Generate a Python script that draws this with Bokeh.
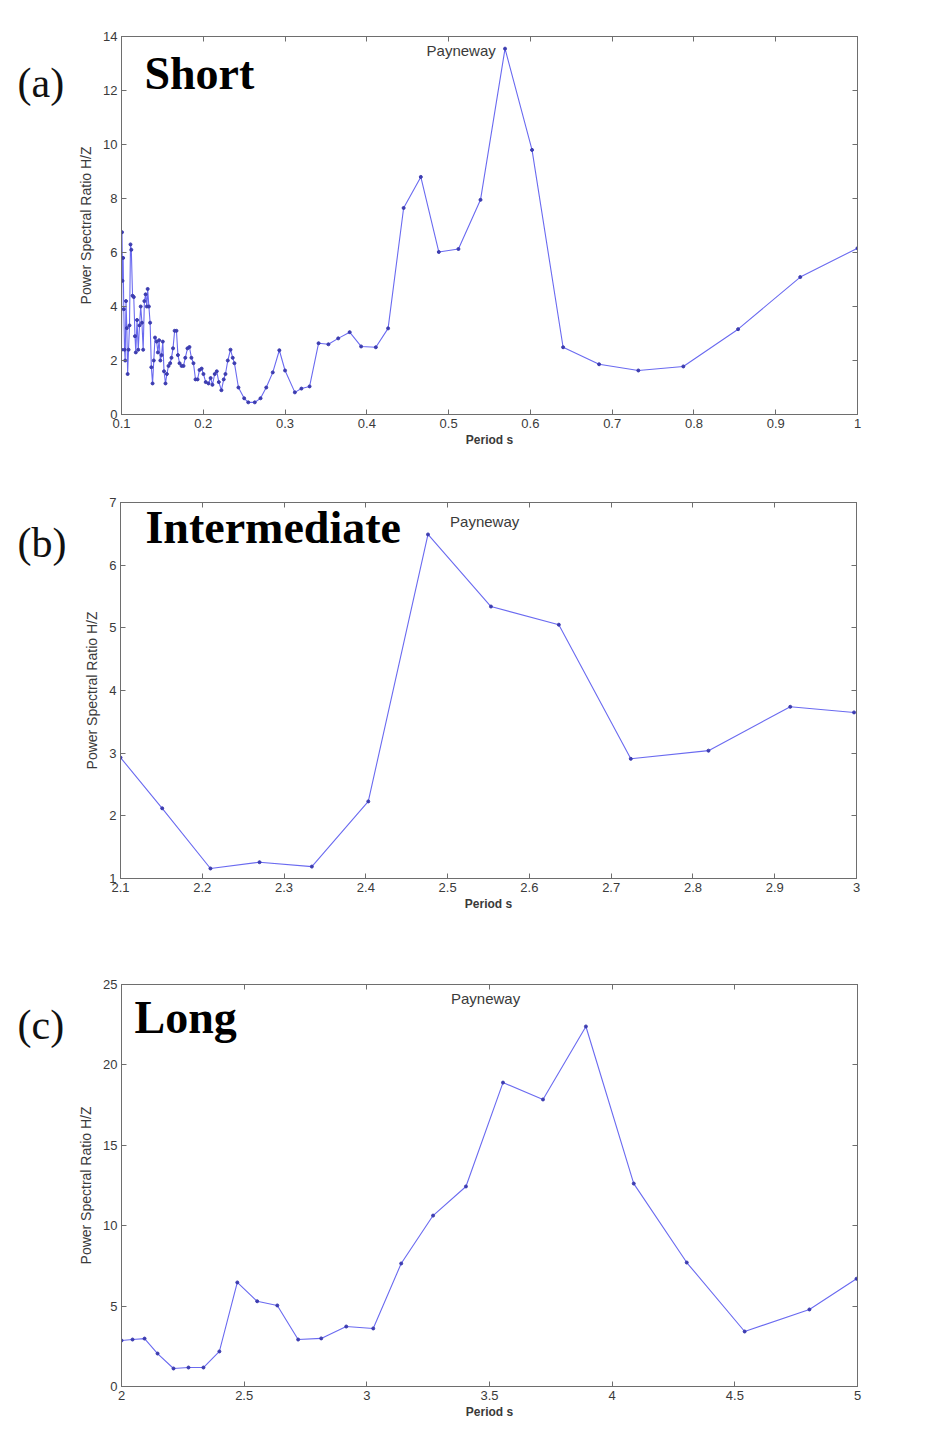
from bokeh.plotting import figure
from bokeh.models import FixedTicker, LinearAxis, Label, CustomJSTickFormatter, Range1d, ColumnDataSource
from bokeh.layouts import column, row
from bokeh.embed import file_html
from bokeh.resources import INLINE

# ---------------- data ----------------
short_period = [0.1000, 0.1006, 0.1012, 0.1020, 0.1028, 0.1037, 0.1045, 0.1055, 0.1065, 0.1075,
                0.1086, 0.1098, 0.1110, 0.1120, 0.1135, 0.1150, 0.1165, 0.1175, 0.1190, 0.1205,
                0.1220, 0.1235, 0.1250, 0.1265, 0.1280, 0.1295, 0.1310, 0.1320, 0.1335, 0.1350,
                0.1365, 0.1380, 0.1395, 0.1410, 0.1430, 0.1445, 0.1460, 0.1475, 0.1490, 0.1505,
                0.1520, 0.1538, 0.1555, 0.1575, 0.1595, 0.1611, 0.1630, 0.1650, 0.1672, 0.1690,
                0.1710, 0.1735, 0.1758, 0.1780, 0.1807, 0.1831, 0.1855, 0.1880, 0.1905, 0.1930,
                0.1954, 0.1980, 0.2002, 0.2030, 0.2064, 0.2090, 0.2112, 0.2140, 0.2165, 0.2190,
                0.2222, 0.2250, 0.2271, 0.2300, 0.2333, 0.2360, 0.2381, 0.2430, 0.2500, 0.2550,
                0.2630, 0.2700, 0.2770, 0.2850, 0.2930, 0.3000, 0.3120, 0.3200, 0.3300, 0.3410,
                0.3530, 0.3650, 0.3790, 0.3930, 0.4110, 0.4260, 0.4450, 0.4660, 0.4880, 0.5120,
                0.5390, 0.5690, 0.6020, 0.6400, 0.6840, 0.7320, 0.7870, 0.8540, 0.9300, 1.0000]
short_ratio = [2.40, 6.75, 4.95, 5.80, 3.90, 2.40, 2.00, 4.20, 3.20, 1.50,
               2.40, 3.30, 6.30, 6.10, 4.40, 4.35, 2.90, 2.30, 3.50, 2.40,
               3.30, 4.00, 3.40, 2.40, 4.20, 4.45, 4.00, 4.65, 4.00, 3.40,
               1.75, 1.15, 2.00, 2.85, 2.70, 2.30, 2.75, 2.00, 2.20, 2.70,
               1.60, 1.15, 1.50, 1.80, 1.90, 2.10, 2.45, 3.10, 3.10, 2.20,
               1.90, 1.80, 1.80, 2.10, 2.45, 2.50, 2.10, 1.90, 1.30, 1.30,
               1.65, 1.70, 1.50, 1.20, 1.15, 1.35, 1.10, 1.50, 1.60, 1.20,
               0.90, 1.30, 1.50, 2.00, 2.40, 2.10, 1.90, 1.00, 0.60, 0.45,
               0.45, 0.60, 1.00, 1.56, 2.38, 1.63, 0.82, 0.96, 1.04, 2.64,
               2.60, 2.82, 3.05, 2.52, 2.49, 3.19, 7.65, 8.80, 6.02, 6.13,
               7.95, 13.55, 9.80, 2.49, 1.86, 1.63, 1.78, 3.16, 5.09, 6.16]

inter_period = [2.100, 2.151, 2.210, 2.270, 2.334, 2.403, 2.476, 2.553, 2.636, 2.724, 2.819, 2.919, 2.997]
inter_ratio = [2.93, 2.12, 1.16, 1.26, 1.19, 2.23, 6.49, 5.34, 5.05, 2.91, 3.04, 3.74, 3.65]

long_period = [2.000, 2.045, 2.094, 2.147, 2.212, 2.273, 2.334, 2.399, 2.472, 2.553, 2.635, 2.720,
               2.814, 2.916, 3.026, 3.140, 3.270, 3.404, 3.555, 3.718, 3.893, 4.088, 4.304, 4.540,
               4.804, 4.996]
long_ratio = [2.86, 2.92, 2.98, 2.05, 1.12, 1.18, 1.18, 2.18, 6.47, 5.30, 5.04, 2.92,
              2.99, 3.73, 3.61, 7.65, 10.63, 12.44, 18.90, 17.85, 22.39, 12.62, 7.71, 3.42,
              4.79, 6.70]

short_xticks = [0.1, 0.2, 0.3, 0.4, 0.5, 0.6, 0.7, 0.8, 0.9, 1.0]
short_xlabels = ["0.1", "0.2", "0.3", "0.4", "0.5", "0.6", "0.7", "0.8", "0.9", "1"]
short_yticks = [0, 2, 4, 6, 8, 10, 12, 14]
short_ylabels = ["0", "2", "4", "6", "8", "10", "12", "14"]

inter_xticks = [2.1, 2.2, 2.3, 2.4, 2.5, 2.6, 2.7, 2.8, 2.9, 3.0]
inter_xlabels = ["2.1", "2.2", "2.3", "2.4", "2.5", "2.6", "2.7", "2.8", "2.9", "3"]
inter_yticks = [1, 2, 3, 4, 5, 6, 7]
inter_ylabels = ["1", "2", "3", "4", "5", "6", "7"]

long_xticks = [2.0, 2.5, 3.0, 3.5, 4.0, 4.5, 5.0]
long_xlabels = ["2", "2.5", "3", "3.5", "4", "4.5", "5"]
long_yticks = [0, 5, 10, 15, 20, 25]
long_ylabels = ["0", "5", "10", "15", "20", "25"]

panel_tags = ["(a)", "(b)", "(c)"]
panel_titles = ["Short", "Intermediate", "Long"]
station = "Payneway"
x_title = "Period s"
y_title = "Power Spectral Ratio H/Z"

AX = "#6e6e6e"
TXT = "#3a3a3a"
LINE = "#6a6af0"
MARK = "#3c3cb0"
TAG_W = 75


def tag_fig(height, tag, tag_xy):
    t = figure(width=TAG_W, height=height, min_border=0, title=None,
               x_axis_type=None, y_axis_type=None,
               x_range=Range1d(0, TAG_W), y_range=Range1d(0, height),
               output_backend="svg", toolbar_location=None)
    t.grid.visible = False
    t.outline_line_color = None
    t.add_layout(Label(x=tag_xy[0], y=tag_xy[1], text=tag,
                       text_font="Liberation Serif", text_font_size="42px",
                       text_color="#111111", text_baseline="middle",
                       text_align="left"))
    return t


def panel(xs, ys, xr, yr, xt, xl, yt, yl, fh, top, bottom,
          title, title_xy, st_xy):
    p = figure(frame_width=736, frame_height=fh,
               min_border_left=120 - TAG_W, min_border_right=79,
               min_border_top=top, min_border_bottom=bottom,
               x_range=Range1d(*xr), y_range=Range1d(*yr),
               output_backend="svg", toolbar_location=None)
    p.grid.visible = False
    p.outline_line_color = AX
    p.background_fill_color = "white"
    p.border_fill_color = "white"

    bottom_ax = p.below[0]
    left_ax = p.left[0]
    bottom_ax.ticker = FixedTicker(ticks=xt)
    bottom_ax.major_label_overrides = {t: l for t, l in zip(xt, xl)}
    left_ax.ticker = FixedTicker(ticks=yt)
    left_ax.major_label_overrides = {t: l for t, l in zip(yt, yl)}
    bottom_ax.axis_label = x_title
    left_ax.axis_label = y_title

    blank = CustomJSTickFormatter(code="return ''")
    right = LinearAxis(ticker=FixedTicker(ticks=yt), formatter=blank)
    above = LinearAxis(ticker=FixedTicker(ticks=xt), formatter=blank)
    p.add_layout(right, "right")
    p.add_layout(above, "above")

    for ax in (bottom_ax, left_ax, right, above):
        ax.major_tick_in = 5
        ax.major_tick_out = 0
        ax.minor_tick_in = 0
        ax.minor_tick_out = 0
        ax.axis_line_color = AX
        ax.major_tick_line_color = AX
        ax.major_label_text_font = "Liberation Sans"
        ax.major_label_text_font_size = "13px"
        ax.major_label_text_color = TXT
        ax.major_label_standoff = 4
    right.major_label_standoff = 0
    above.major_label_standoff = 0

    bottom_ax.axis_label_text_font = "Liberation Sans"
    bottom_ax.axis_label_text_font_size = "12px"
    bottom_ax.axis_label_text_font_style = "bold"
    bottom_ax.axis_label_text_color = TXT
    bottom_ax.axis_label_standoff = 2
    left_ax.axis_label_text_font = "Liberation Sans"
    left_ax.axis_label_text_font_size = "14px"
    left_ax.axis_label_text_font_style = "normal"
    left_ax.axis_label_text_color = TXT
    left_ax.axis_label_standoff = 6

    src = ColumnDataSource(dict(x=xs, y=ys))
    p.line("x", "y", source=src, line_color=LINE, line_width=1.1)
    p.scatter("x", "y", source=src, size=3, marker="circle",
              fill_color=MARK, line_color=MARK)

    p.add_layout(Label(x=title_xy[0], y=title_xy[1], text=title,
                       text_font="Liberation Serif", text_font_size="46px",
                       text_font_style="bold", text_color="#000000",
                       text_baseline="middle", text_align="left"))
    p.add_layout(Label(x=st_xy[0], y=st_xy[1], text=station,
                       text_font="Liberation Sans", text_font_size="15px",
                       text_color=TXT, text_baseline="middle",
                       text_align="left"))
    return p


# heights: top border + frame + bottom border
HA, HB, HC = 36 + 378 + 46, 42 + 376 + 62, 44 + 402 + 48

pa = panel(short_period, short_ratio, (0.1, 1.0), (0, 14),
           short_xticks, short_xlabels, short_yticks, short_ylabels,
           378, 36, 46, panel_titles[0], (0.128, 12.63), (0.473, 13.48))
pb = panel(inter_period, inter_ratio, (2.1, 3.0), (1, 7),
           inter_xticks, inter_xlabels, inter_yticks, inter_ylabels,
           376, 42, 62, panel_titles[1], (2.1305, 6.60), (2.503, 6.69))
pc = panel(long_period, long_ratio, (2.0, 5.0), (0, 25),
           long_xticks, long_xlabels, long_yticks, long_ylabels,
           402, 44, 48, panel_titles[2], (2.053, 22.95), (3.343, 24.13))

ta = tag_fig(HA, panel_tags[0], (17, HA - 57))
tb = tag_fig(HB, panel_tags[1], (17, HB - 52))
tc = tag_fig(HC, panel_tags[2], (17, HC - 50))

layout = column(row(ta, pa, spacing=0), row(tb, pb, spacing=0),
                row(tc, pc, spacing=0), spacing=0)
open("out.html", "w").write(file_html(layout, INLINE))
